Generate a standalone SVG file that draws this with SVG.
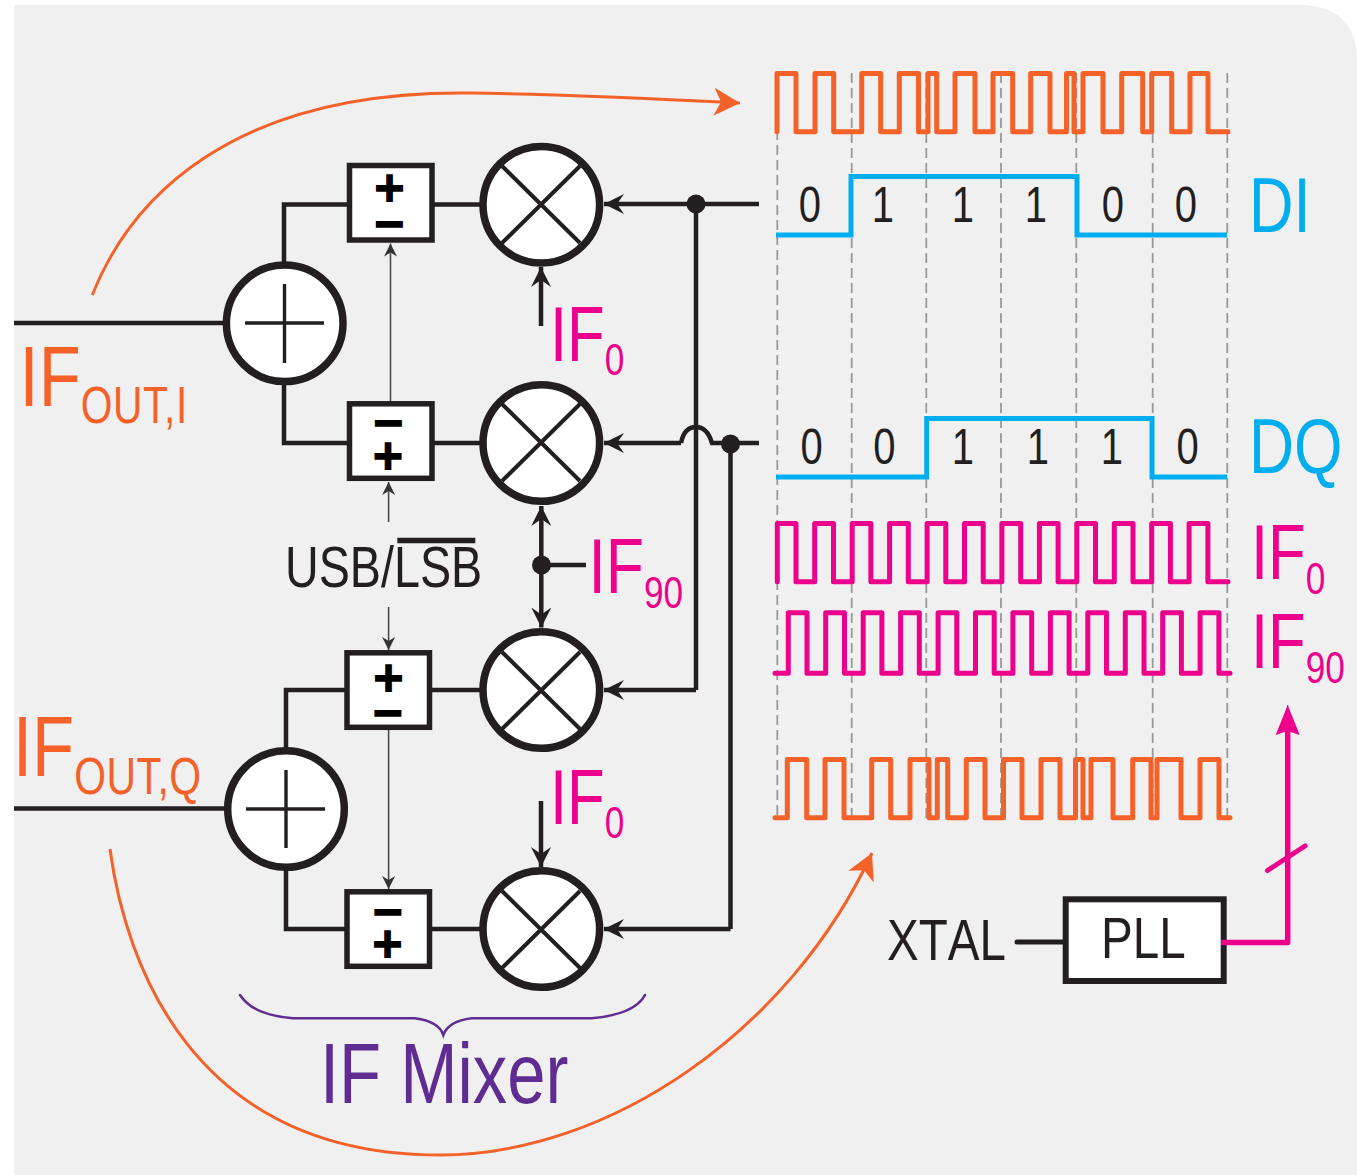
<svg xmlns="http://www.w3.org/2000/svg" width="1357" height="1175" viewBox="0 0 1357 1175">
<style>
text{font-family:"Liberation Sans",Arial,sans-serif}
.k{fill:#231f20}.or{fill:#f4622a}.pk{fill:#ec008c}.cy{fill:#00aeef}.pu{fill:#5f2d91}
.nk{font-kerning:none}
.w{fill:none;stroke:#231f20;stroke-width:4.5}
.thin{fill:none;stroke:#4a4a4a;stroke-width:1.6}
.mix{fill:#fff;stroke:#231f20;stroke-width:7.5}
.sum{fill:#fff;stroke:#231f20;stroke-width:7.5}
.x{stroke:#231f20;stroke-width:4;fill:none}
.xs{stroke:#231f20;stroke-width:3.4;fill:none}
.box{fill:#fff;stroke:#231f20;stroke-width:5.5}
.sg{font-family:"DejaVu Sans",sans-serif;font-weight:700;font-size:40px;text-anchor:middle;fill:#000;stroke:#000;stroke-width:2}
.dash{stroke:#999;stroke-width:1.8;stroke-dasharray:10 5;fill:none}
.wo{fill:none;stroke:#f4622a;stroke-width:5;stroke-linejoin:round;stroke-linecap:round}
.wp{fill:none;stroke:#ec008c;stroke-width:5;stroke-linejoin:round;stroke-linecap:round}
.wc{fill:none;stroke:#00aeef;stroke-width:5}
.dg{font-size:50px;text-anchor:middle;fill:#231f20}
.sub{font-size:51px;letter-spacing:.7px}
</style>
<defs>
<marker id="ah" markerUnits="userSpaceOnUse" markerWidth="22" markerHeight="24" refX="20" refY="12" orient="auto-start-reverse"><path d="M20,12 L0,2 L7,12 L0,22 Z" fill="#231f20"/></marker>
<marker id="at" markerUnits="userSpaceOnUse" markerWidth="14" markerHeight="16" refX="13" refY="8" orient="auto"><path d="M13,8 L0,1.5 L4,8 L0,14.5 Z" fill="#333"/></marker>
<marker id="ao" markerUnits="userSpaceOnUse" markerWidth="28" markerHeight="34" refX="26" refY="17" orient="auto"><path d="M26,17 L0,3 L7,17 L0,31 Z" fill="#f4622a"/></marker>
<marker id="ap" markerUnits="userSpaceOnUse" markerWidth="32" markerHeight="28" refX="30" refY="14" orient="auto"><path d="M30,14 L0,2 L4,14 L0,26 Z" fill="#ec008c"/></marker>
</defs>
<path id="background" d="M14,5 H1303 Q1357,8 1357,60 V1175 H14 Z" fill="#f0f0f0"/>
<g id="timing-grid">
<path class="dash" d="M777.3,85 V820 M851.7,73 V820 M926.3,73 V820 M1001,73 V820 M1076.3,73 V820 M1152.7,73 V820 M1227.3,73 V820"/>
</g>
<g id="waveforms">
<path id="wave-top" class="wo" d="M777,131.7 V73.5 H796 V131.7 H815 V73.5 H833.7 V131.7 H861.7 V73.5 H880.7 V131.7 H899.3 V73.5 H918.5 V131.7 H928 V73.5 H936.7 V131.7 H955 V73.5 H975 V131.7 H993 V73.5 H1012.7 V131.7 H1030.7 V73.5 H1050 V131.7 H1066.5 V73.5 H1074 V131.7 H1083 V73.5 H1103 V131.7 H1121.7 V73.5 H1142.7 V131.7 H1151.7 V73.5 H1171.7 V131.7 H1190 V73.5 H1208 V131.7 H1228"/>
<path id="wave-di" class="wc" d="M776,235 H851 V176.5 H1077 V235 H1227"/>
<path id="wave-dq" class="wc" d="M776,477 H926.7 V418.5 H1152 V477 H1227"/>
<path id="wave-if0" class="wp" d="M777.3,581.7 V523.5 H796 V581.7 H814.7 V523.5 H833.5 V581.7 H852.2 V523.5 H870.9 V581.7 H889.6 V523.5 H908.3 V581.7 H927.1 V523.5 H945.8 V581.7 H964.5 V523.5 H983.2 V581.7 H1001.9 V523.5 H1020.7 V581.7 H1039.4 V523.5 H1058.1 V581.7 H1076.8 V523.5 H1095.5 V581.7 H1114.3 V523.5 H1133 V581.7 H1151.7 V523.5 H1170.4 V581.7 H1189.1 V523.5 H1207.9 V581.7 H1228"/>
<path id="wave-if90" class="wp" d="M775,673.3 H788.3 V612.8 H807 V673.3 H825.7 V612.8 H844.5 V673.3 H863.2 V612.8 H881.9 V673.3 H900.6 V612.8 H919.3 V673.3 H938.1 V612.8 H956.8 V673.3 H975.5 V612.8 H994.2 V673.3 H1012.9 V612.8 H1031.7 V673.3 H1050.4 V612.8 H1069.1 V673.3 H1087.8 V612.8 H1106.5 V673.3 H1125.3 V612.8 H1144 V673.3 H1162.7 V612.8 H1181.4 V673.3 H1200.1 V612.8 H1218.9 V673.3 H1230"/>
<path id="wave-bottom" class="wo" d="M775,817.7 H787.3 V759.4 H806.7 V817.7 H825 V759.4 H844 V817.7 H871.7 V759.4 H890.7 V817.7 H910 V759.4 H929 V817.7 H937.3 V759.4 H947.7 V817.7 H966.3 V759.4 H985 V817.7 H1003.5 V759.4 H1022 V817.7 H1041 V759.4 H1060 V817.7 H1075.5 V759.4 H1083 V817.7 H1091 V759.4 H1113 V817.7 H1132.7 V759.4 H1151 V817.7 H1157 V759.4 H1181 V817.7 H1200 V759.4 H1219 V817.7 H1230"/>
<g id="bits-di">
<text class="dg" transform="translate(810,222) scale(.8,1)">0</text>
<text class="dg" transform="translate(883,222) scale(.8,1)">1</text>
<text class="dg" transform="translate(963,222) scale(.8,1)">1</text>
<text class="dg" transform="translate(1036,222) scale(.8,1)">1</text>
<text class="dg" transform="translate(1113,222) scale(.8,1)">0</text>
<text class="dg" transform="translate(1186,222) scale(.8,1)">0</text>
</g>
<g id="bits-dq">
<text class="dg" transform="translate(811.7,463.5) scale(.8,1)">0</text>
<text class="dg" transform="translate(884.3,463.5) scale(.8,1)">0</text>
<text class="dg" transform="translate(963,463.5) scale(.8,1)">1</text>
<text class="dg" transform="translate(1038,463.5) scale(.8,1)">1</text>
<text class="dg" transform="translate(1112,463.5) scale(.8,1)">1</text>
<text class="dg" transform="translate(1187.7,463.5) scale(.8,1)">0</text>
</g>
</g>
<g id="pll"><rect x="1065.7" y="899.3" width="158" height="81.7" fill="#fff" stroke="#231f20" stroke-width="6"/><text class="k nk" font-size="58" transform="translate(1101,958) scale(.82,1)">PLL</text></g>
<g id="connectors">
<path class="w" d="M14,323 H226"/>
<path class="w" d="M14,808.5 H228"/>
<path class="w" d="M284,265 V204.5 H350"/>
<path class="w" d="M284,382 V443 H350"/>
<path class="w" d="M286,750 V690 H348"/>
<path class="w" d="M286,868 V929 H348"/>
<path class="w" d="M432,204.5 H482"/>
<path class="w" d="M432,443 H482"/>
<path class="w" d="M430,690 H482"/>
<path class="w" d="M430,929 H482"/>
<path class="w" marker-end="url(#ah)" d="M759,204 H604"/>
<path class="w" d="M696,204 V690"/>
<path class="w" marker-end="url(#ah)" d="M696,690 H604"/>
<path class="w" marker-end="url(#ah)" d="M681,443 H604"/>
<path class="w" d="M681,443 C683,433 688,427 696,427 C704,427 709,433 712,443 H759"/>
<path class="w" d="M730.5,444 V929"/>
<path class="w" marker-end="url(#ah)" d="M730.5,929 H604"/>
<path class="w" marker-end="url(#ah)" d="M541,326 V267"/>
<path class="w" marker-end="url(#ah)" d="M541,801 V867"/>
<path class="w" marker-start="url(#ah)" marker-end="url(#ah)" d="M541.3,506 V627.5"/>
<path class="w" d="M541,565 H586"/>
<path class="thin" marker-end="url(#at)" d="M390.5,401 V243.5"/>
<path class="thin" marker-end="url(#at)" d="M388.6,522 V482"/>
<path class="thin" marker-end="url(#at)" d="M388.6,607 V650"/>
<path class="thin" marker-end="url(#at)" d="M388.6,730 V889"/>
<circle class="k" cx="696" cy="204" r="9.5"/>
<circle class="k" cx="730.5" cy="444" r="9.5"/>
<circle class="k" cx="541.5" cy="565" r="9.5"/>
<path d="M92.3,295 C130,200 230,90 470,93 C560,94 640,98 740,103" fill="none" stroke="#f4622a" stroke-width="3" marker-end="url(#ao)"/>
<path d="M110,849 C125,960 190,1155 440,1155 C610,1155 790,1030 872,853" fill="none" stroke="#f4622a" stroke-width="3" marker-end="url(#ao)"/>
<path d="M1017,942 H1064" fill="none" stroke="#231f20" stroke-width="5" stroke-linecap="round"/>
<path d="M1221,942.5 H1287.7 V730" fill="none" stroke="#ec008c" stroke-width="5.5" stroke-linejoin="round"/>
<path d="M1287.7,735 V705" fill="none" stroke="#ec008c" stroke-width="1" marker-end="url(#ap)"/>
<path d="M1267.5,870.5 L1305,846" fill="none" stroke="#ec008c" stroke-width="5" stroke-linecap="round"/>
<path id="brace" d="M240,995 C250,1010 268,1016 293,1018.3 H415 C428,1020 440,1025 443.3,1035 C447,1025 458,1020 471.7,1018.3 H591.7 C617,1016 637,1010 645,995" fill="none" stroke="#5f2d91" stroke-width="2.6" stroke-linecap="round"/>
</g>
<g id="sum-i"><circle class="sum" cx="284.7" cy="323.3" r="58.3"/><path class="xs" d="M245,323 H324 M284.5,284 V363"/></g>
<g id="sum-q"><circle class="sum" cx="286" cy="809" r="58.3"/><path class="xs" d="M246,809 H325 M286,770 V848"/></g>
<g id="mixer-1"><circle class="mix" cx="541.3" cy="204.7" r="58.3"/><path class="x" d="M502,166 L580,243 M580,166 L502,243"/></g>
<g id="mixer-2"><circle class="mix" cx="541.3" cy="443" r="58.3"/><path class="x" d="M502,404 L580,481 M580,404 L502,481"/></g>
<g id="mixer-3"><circle class="mix" cx="541.3" cy="690" r="58.3"/><path class="x" d="M502,652 L580,729 M580,652 L502,729"/></g>
<g id="mixer-4"><circle class="mix" cx="541.3" cy="929" r="58.3"/><path class="x" d="M502,891 L580,968 M580,891 L502,968"/></g>
<g id="sign-1"><rect class="box" x="349.5" y="165.5" width="82.5" height="74.5"/><text class="sg"><tspan x="389.5" y="200.8">+</tspan><tspan x="389.5" y="236.5">−</tspan></text></g>
<g id="sign-2"><rect class="box" x="349.5" y="403.8" width="82.5" height="74.5"/><text class="sg"><tspan x="388.5" y="436">−</tspan><tspan x="388" y="468.5">+</tspan></text></g>
<g id="sign-3"><rect class="box" x="347" y="652.8" width="82.5" height="74.5"/><text class="sg"><tspan x="388.5" y="690.5">+</tspan><tspan x="388" y="725.5">−</tspan></text></g>
<g id="sign-4"><rect class="box" x="347" y="891.8" width="82.5" height="74.5"/><text class="sg"><tspan x="388" y="924.5">−</tspan><tspan x="387.5" y="956.5">+</tspan></text></g>
<g id="labels">
<text class="k nk" font-size="58" transform="translate(887,960) scale(.82,1)">XTAL</text>
<text class="k" font-size="58" transform="translate(285,587) scale(.805,1)">USB/LSB</text>
<path d="M397.3,540.5 H475.3" stroke="#231f20" stroke-width="5.5" fill="none"/>
<text class="or" font-size="86" transform="translate(19.6,406) scale(.8,1)">IF<tspan class="sub" dy="17">OUT,I</tspan></text>
<text class="or" font-size="86" transform="translate(13,776) scale(.8,1)">IF<tspan class="sub" dy="18">OUT,Q</tspan></text>
<text class="pk" font-size="77" transform="translate(550,360.7) scale(.8,1)">IF<tspan dy="14.5" font-size="44">0</tspan></text>
<text class="pk" font-size="77" transform="translate(550,824) scale(.8,1)">IF<tspan dy="14" font-size="44">0</tspan></text>
<text class="pk" font-size="78" transform="translate(588.5,593) scale(.8,1)">IF<tspan dy="15" font-size="44">90</tspan></text>
<text class="pk" font-size="77" transform="translate(1251,579) scale(.8,1)">IF<tspan dy="15" font-size="44">0</tspan></text>
<text class="pk" font-size="77" transform="translate(1251,668) scale(.8,1)">IF<tspan dy="15" font-size="44">90</tspan></text>
<text class="cy" font-size="77" transform="translate(1249,231.5) scale(.8,1)">DI</text>
<text class="cy" font-size="77" transform="translate(1249,473) scale(.81,1)">DQ</text>
<text class="pu" font-size="86" transform="translate(320,1103.3) scale(.8,1)">IF Mixer</text>
</g>
</svg>
